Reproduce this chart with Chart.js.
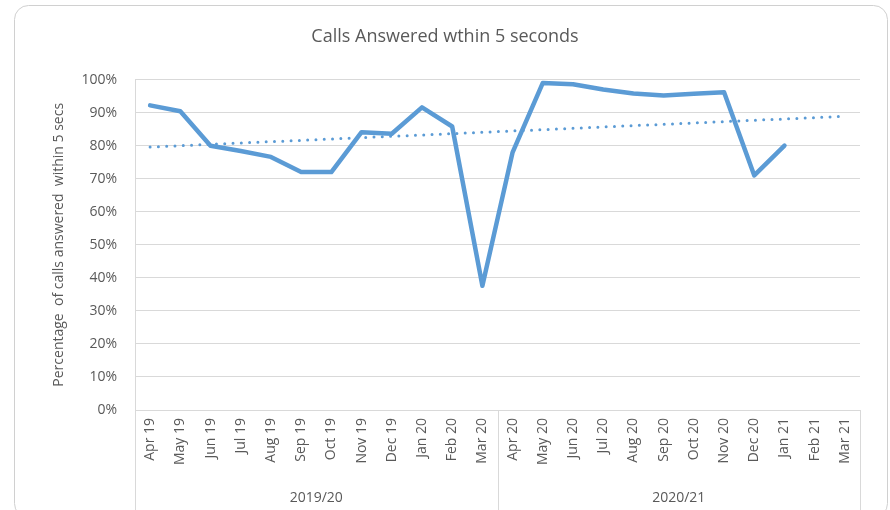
<!DOCTYPE html>
<html>
<head>
<meta charset="utf-8">
<script src="https://cdn.jsdelivr.net/npm/chart.js@4/dist/chart.umd.min.js"></script>
<style>
  html, body { margin: 0; padding: 0; background: #fff; }
  #wrap { width: 890px; height: 510px; position: relative; }
</style>
</head>
<body>
<div id="wrap"><canvas id="calls-chart"></canvas></div>
<script>
// data
const months = ['Apr 19','May 19','Jun 19','Jul 19','Aug 19','Sep 19','Oct 19','Nov 19','Dec 19','Jan 20','Feb 20','Mar 20',
                'Apr 20','May 20','Jun 20','Jul 20','Aug 20','Sep 20','Oct 20','Nov 20','Dec 20','Jan 21','Feb 21','Mar 21'];
const years = ['2019/20', '2020/21'];
const answered = [92.2, 90.4, 80, 78.4, 76.6, 72, 72, 84.1, 83.6, 91.6, 85.8, 37.6,
                  78, 99, 98.6, 97, 95.8, 95.2, 95.7, 96.2, 71, 80, null, null];
// linear trendline end points (Excel trendline)
const trendStart = 79.6;
const trendEnd = 88.9;
const yTicks = [0, 10, 20, 30, 40, 50, 60, 70, 80, 90, 100];

const textColor = '#595959';
const lineBlue = '#5B9BD5';
const gridGrey = '#d9d9d9';
const fontFamily = "'Open Sans', sans-serif";

// frame + year separators
const framePlugin = {
    id: 'frame',
    beforeDraw(chart){
        const ctx = chart.ctx;
        ctx.save();
        ctx.fillStyle = '#fff';
        ctx.fillRect(0, 0, chart.width, chart.height);
        ctx.strokeStyle = '#d0d0d0';
        ctx.lineWidth = 1;
        ctx.beginPath();
        ctx.roundRect(14.5, 5.5, 873, 512, 14);
        ctx.stroke();
        ctx.restore();
    },
    afterDraw(chart){
        const ctx = chart.ctx;
        const x = chart.scales.x;
        const area = chart.chartArea;
        const mid = (x.getPixelForValue(11) + x.getPixelForValue(12)) / 2;
        ctx.save();
        ctx.strokeStyle = gridGrey;
        ctx.lineWidth = 1;
        [x.left, mid, x.right].forEach(function(px){
            const p = Math.round(px) + 0.5;
            ctx.beginPath();
            ctx.moveTo(p, area.bottom);
            ctx.lineTo(p, chart.height);
            ctx.stroke();
        });
        ctx.restore();
    }
};

const data = {
    labels: months,
    datasets: [{
        label: 'Calls answered within 5 secs',
        data: answered,
        borderColor: lineBlue,
        borderWidth: 4.5,
        borderJoinStyle: 'round',
        borderCapStyle: 'round',
        pointRadius: 0,
        tension: 0,
        spanGaps: false
    }, {
        label: 'Linear trend',
        data: [{x: months[0], y: trendStart}, {x: months[months.length - 1], y: trendEnd}],
        borderColor: lineBlue,
        borderWidth: 3,
        borderDash: [0, 8.3],
        borderCapStyle: 'round',
        pointRadius: 0
    }]
};

const options = {
    animation: false,
    responsive: true,
    maintainAspectRatio: false,
    layout: {
        padding: { left: 30, right: 30, top: 0, bottom: 0 }
    },
    plugins: {
        legend: { display: false },
        tooltip: { enabled: false },
        title: {
            display: true,
            text: 'Calls Answered wthin 5 seconds',
            color: textColor,
            font: { family: fontFamily, size: 18, weight: 'normal' },
            padding: { top: 26, bottom: 32 }
        }
    },
    scales: {
        y: {
            min: 0,
            max: 100,
            afterBuildTicks: function(scale){
                scale.ticks = yTicks.map(function(v){ return {value: v}; });
            },
            afterFit: function(scale){ scale.width = 105; },
            grid: { color: gridGrey, drawTicks: false },
            border: { display: true, color: gridGrey },
            ticks: {
                color: textColor,
                padding: 18,
                font: { family: fontFamily, size: 14 },
                callback: function(v){ return v + '%'; }
            },
            title: {
                display: true,
                text: 'Percentage  of calls answered  within 5 secs',
                color: textColor,
                font: { family: fontFamily, size: 14 },
                padding: { top: 21, bottom: 0 }
            }
        },
        x: {
            offset: true,
            afterFit: function(scale){ scale.height = 72; },
            grid: { display: false, drawTicks: false },
            border: { display: true, color: gridGrey },
            ticks: {
                color: textColor,
                padding: 8,
                minRotation: 90,
                maxRotation: 90,
                autoSkip: false,
                font: { family: fontFamily, size: 14 }
            }
        },
        x2: {
            type: 'category',
            position: 'bottom',
            labels: years,
            offset: true,
            afterFit: function(scale){ scale.height = 28; },
            grid: { display: false, drawTicks: false },
            border: { display: false },
            ticks: {
                color: textColor,
                padding: 8,
                font: { family: fontFamily, size: 14 }
            }
        }
    }
};

const callsChart = new Chart(document.getElementById('calls-chart').getContext('2d'), {
    type: 'line',
    data: data,
    options: options,
    plugins: [framePlugin]
});
</script>
</body>
</html>
